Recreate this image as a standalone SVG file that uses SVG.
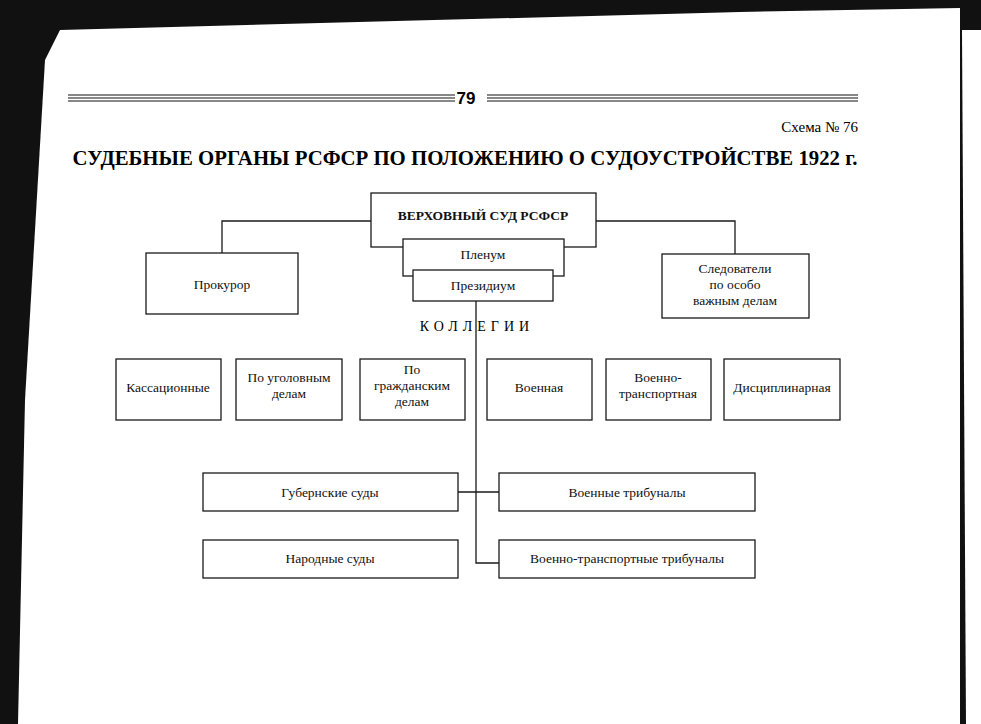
<svg xmlns="http://www.w3.org/2000/svg" width="981" height="724" viewBox="0 0 981 724">
<style>
.b{fill:#fff;stroke:#1a1a1a;stroke-width:1.3}
.t{font-family:"Liberation Serif",serif;font-size:13.5px;fill:#111;text-anchor:middle}
.c{fill:none;stroke:#1a1a1a;stroke-width:1.3}
</style>
<rect width="981" height="724" fill="#111"/>
<polygon points="60,30 740,12 960,8 960,724 18,724 25,400 45,60" fill="#fff"/>
<polygon points="962,30 981,30 981,724 966,724" fill="#fff"/>
<g id="header">
<path d="M68,95H455M68,98H455M68,101H455M487,95H858M487,98H858M487,101H858" stroke="#111" stroke-width="1"/>
<text x="466" y="104" font-family="Liberation Sans,sans-serif" font-weight="bold" font-size="17" text-anchor="middle">79</text>
<text x="858" y="132" font-family="Liberation Serif,serif" font-size="15" text-anchor="end">Схема № 76</text>
<text x="465" y="165" font-family="Liberation Serif,serif" font-weight="bold" font-size="20.8" text-anchor="middle">СУДЕБНЫЕ ОРГАНЫ РСФСР ПО ПОЛОЖЕНИЮ О СУДОУСТРОЙСТВЕ 1922 г.</text>
</g>
<g id="connectors">
<path class="c" d="M371,221H222V253M596,221H735V254M476,301V563H499M458,492H499"/>
</g>
<g id="verkh"><rect class="b" x="371" y="193" width="225" height="54"/><text class="t" x="483" y="220" font-weight="bold">ВЕРХОВНЫЙ СУД РСФСР</text></g>
<g id="plenum"><rect class="b" x="403" y="239" width="161" height="37"/><text class="t" x="483" y="259">Пленум</text></g>
<g id="prezidium"><rect class="b" x="413" y="270" width="140" height="31"/><text class="t" x="483" y="290">Президиум</text></g>
<g id="prokuror"><rect class="b" x="146" y="253" width="152" height="61"/><text class="t" x="222" y="289">Прокурор</text></g>
<g id="sledovateli"><rect class="b" x="662" y="254" width="147" height="64"/><text class="t" x="735" y="273">Следователи</text><text class="t" x="735" y="289">по особо</text><text class="t" x="735" y="305">важным делам</text></g>
<text x="477" y="331" font-family="Liberation Serif,serif" font-size="14" text-anchor="middle" letter-spacing="5">КОЛЛЕГИИ</text>
<g id="kass"><rect class="b" x="116" y="359" width="105" height="61"/><text class="t" x="168" y="392">Кассационные</text></g>
<g id="ugol"><rect class="b" x="236" y="359" width="106" height="61"/><text class="t" x="289" y="382">По уголовным</text><text class="t" x="289" y="398">делам</text></g>
<g id="grazh"><rect class="b" x="360" y="359" width="105" height="61"/><text class="t" x="412" y="374">По</text><text class="t" x="412" y="390">гражданским</text><text class="t" x="412" y="406">делам</text></g>
<g id="voen"><rect class="b" x="487" y="359" width="105" height="61"/><text class="t" x="539" y="392">Военная</text></g>
<g id="voentr"><rect class="b" x="606" y="359" width="105" height="61"/><text class="t" x="658" y="382">Военно-</text><text class="t" x="658" y="398">транспортная</text></g>
<g id="disc"><rect class="b" x="724" y="359" width="116" height="61"/><text class="t" x="782" y="392">Дисциплинарная</text></g>
<g id="gub"><rect class="b" x="203" y="473" width="255" height="38"/><text class="t" x="330" y="497">Губернские суды</text></g>
<g id="voentrib"><rect class="b" x="499" y="473" width="256" height="38"/><text class="t" x="627" y="497">Военные трибуналы</text></g>
<g id="narod"><rect class="b" x="203" y="540" width="255" height="38"/><text class="t" x="330" y="563">Народные суды</text></g>
<g id="vtt"><rect class="b" x="499" y="540" width="256" height="38"/><text class="t" x="627" y="563">Военно-транспортные трибуналы</text></g>
</svg>
